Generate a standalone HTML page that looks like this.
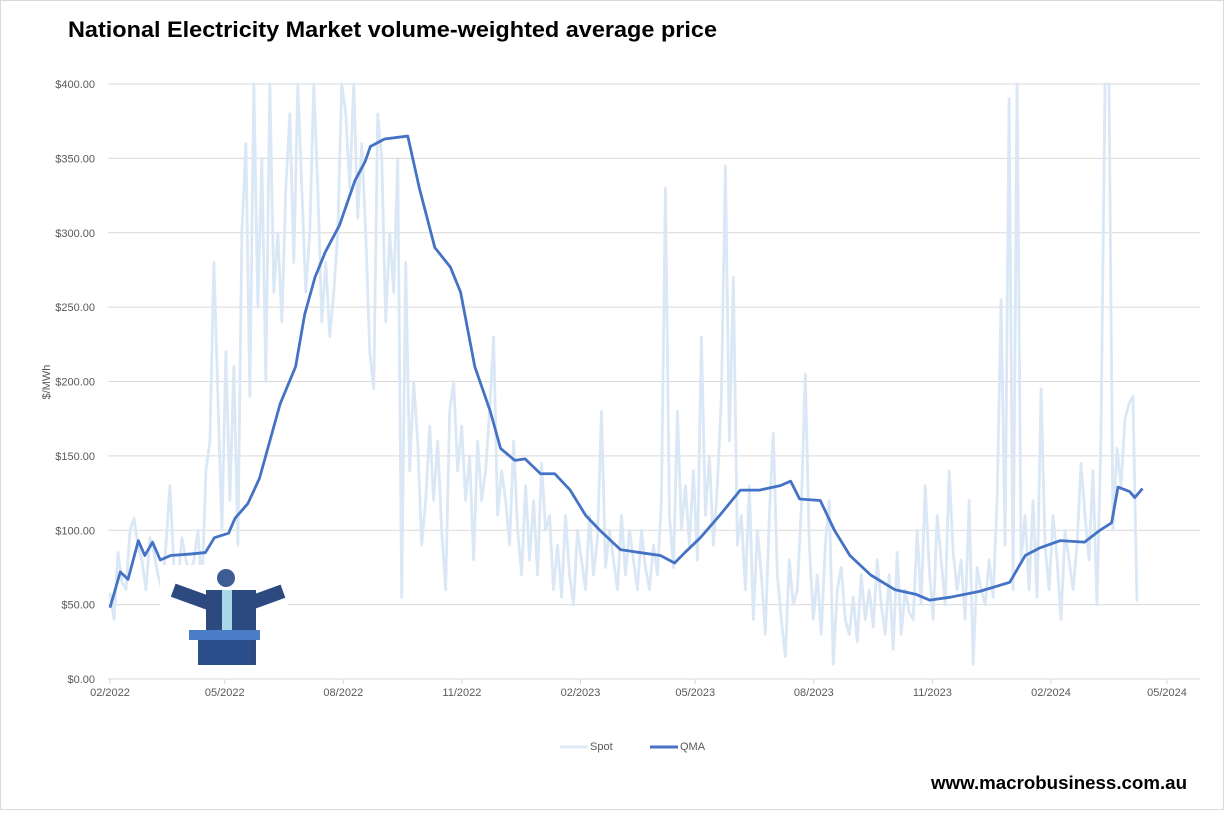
<!DOCTYPE html>
<html><head><meta charset="utf-8"><style>
body{margin:0;background:#fff;}
svg text{font-family:"Liberation Sans",sans-serif;}
</style></head><body>
<svg id="chart" width="1224" height="814" viewBox="0 0 1224 814" xmlns="http://www.w3.org/2000/svg">
<rect x="0.5" y="0.5" width="1223" height="809" fill="#fff" stroke="#d9d9d9"/>
<text x="68" y="37" font-size="22" font-weight="bold" fill="#000" textLength="649" lengthAdjust="spacingAndGlyphs">National Electricity Market volume-weighted average price</text>
<g id="grid"></g>
<g id="yticks"></g>
<g id="xticks"></g>
<text transform="translate(50,382) rotate(-90)" text-anchor="middle" font-size="11" fill="#595959">$/MWh</text>
<g id="series"></g>
<g>
<rect x="160" y="565" width="128" height="100" fill="#fff"/>
<rect x="206" y="590" width="50" height="75" fill="#2c4a80"/>
<rect x="172" y="590" width="40" height="14" fill="#2c4a80" transform="rotate(20 192 597)"/>
<rect x="250" y="590" width="34" height="14" fill="#2c4a80" transform="rotate(-20 267 597)"/>
<circle cx="226" cy="578" r="9" fill="#3d5d94"/>
<rect x="222" y="590" width="10" height="40" fill="#a8d8e8"/>
<rect x="189" y="630" width="71" height="10" fill="#4a7fc8"/>
<rect x="198" y="640" width="52" height="25" fill="#2a4f8a"/>
</g>
<g>
<line x1="560" y1="747" x2="588" y2="747" stroke="#dde9f5" stroke-width="3"/>
<text x="590" y="750" font-size="11" fill="#595959">Spot</text>
<line x1="650" y1="747" x2="678" y2="747" stroke="#4472c4" stroke-width="3"/>
<text x="680" y="750" font-size="11" fill="#595959">QMA</text>
</g>
<text x="931" y="789" font-size="18" font-weight="bold" fill="#000" textLength="256" lengthAdjust="spacingAndGlyphs">www.macrobusiness.com.au</text>
</svg>
<script>
const yTicks=[0,50,100,150,200,250,300,350,400];
const xTickLabels=["02/2022","05/2022","08/2022","11/2022","02/2023","05/2023","08/2023","11/2023","02/2024","05/2024"];
const xTickDays=[0,89,181,273,365,454,546,638,730,820];
const spotStep=3.1;
const spot=[58,40,85,65,60,100,108,90,80,60,95,85,70,60,90,130,75,65,95,80,70,80,100,60,140,
160,280,190,100,220,120,210,90,300,360,190,400,250,350,200,400,260,300,240,330,380,280,400,330,260,300,400,330,240,280,230,260,300,400,380,330,400,310,360,300,220,195,380,350,240,300,260,350,55,280,140,200,160,90,120,170,120,160,100,60,180,200,140,170,120,150,80,160,120,140,180,230,110,140,120,90,160,100,70,130,80,120,70,145,100,110,60,90,55,110,70,50,100,80,60,110,70,95,180,75,100,80,60,110,70,100,80,60,100,75,60,90,70,120,330,110,75,180,100,130,90,140,80,230,110,150,90,130,190,345,160,270,90,110,60,130,40,100,70,30,110,165,70,40,15,80,50,60,115,205,90,40,70,30,90,120,10,60,75,40,30,55,25,70,40,60,35,80,50,30,70,20,85,30,60,45,40,100,50,130,75,40,110,80,50,140,85,60,80,40,120,10,75,60,50,80,55,120,255,90,390,60,400,80,110,60,120,55,195,90,60,110,80,40,100,80,60,90,145,110,80,140,50,165,400,400,100,155,130,175,185,190,52];
const qmaDays=[0,8,14,22,27,33,39,47,62,74,81,92,97,107,116,124,132,144,151,159,167,178,190,198,202,213,231,240,252,264,272,283,295,303,314,322,334,345,357,369,380,396,411,427,438,446,458,473,489,504,520,528,535,551,562,574,590,609,625,636,652,675,698,710,721,737,756,768,777,782,791,795,801];
const qma=[48,72,67,93,83,92,80,83,84,85,95,98,108,118,135,160,185,210,245,270,287,305,335,348,358,363,365,330,290,277,260,210,180,155,147,148,138,138,127,110,100,87,85,83,78,85,95,110,127,127,130,133,121,120,100,83,70,60,57,53,55,59,65,83,88,93,92,100,105,129,126,122,128];

const NS="http://www.w3.org/2000/svg";
const X0=110,X1=1167,Y0=679,Y1=84;
const xS=d=>X0+(d-xTickDays[0])*(X1-X0)/(xTickDays[xTickDays.length-1]-xTickDays[0]);
const yS=v=>Y0-(Math.min(v,400)/400)*(Y0-Y1);
function mk(tag,attrs,parent){const e=document.createElementNS(NS,tag);for(const k in attrs)e.setAttribute(k,attrs[k]);parent.appendChild(e);return e;}
const grid=document.getElementById('grid'),yt=document.getElementById('yticks'),xt=document.getElementById('xticks'),ser=document.getElementById('series');
yTicks.forEach(v=>{
  const l=mk('line',{x1:108,x2:1200,y1:yS(v),y2:yS(v),stroke:'#d9d9d9','stroke-width':1},grid);
  
  
  const t=mk('text',{x:95,y:yS(v)+4,'text-anchor':'end','font-size':11,fill:'#595959'},yt);
  t.textContent='$'+v.toFixed(2);
  
  
});
xTickLabels.forEach((lab,i)=>{
  const x=xS(xTickDays[i]);
  const tk=mk('line',{x1:x,x2:x,y1:Y0,y2:Y0+5,stroke:'#d9d9d9'},xt);
  
  
  const t=mk('text',{x:x,y:Y0+17,'text-anchor':'middle','font-size':11,fill:'#595959'},xt);
  t.textContent=lab;
  
  
});
const sp=mk('polyline',{points:spot.map((v,i)=>xS(i*spotStep)+','+yS(v)).join(' '),fill:'none',stroke:'#dae7f5','stroke-width':2.8,'stroke-linejoin':'round'},ser);


const qm=mk('polyline',{points:qma.map((v,i)=>xS(qmaDays[i])+','+yS(v)).join(' '),fill:'none',stroke:'#4472c4','stroke-width':2.8,'stroke-linejoin':'round'},ser);


</script>
</body></html>
